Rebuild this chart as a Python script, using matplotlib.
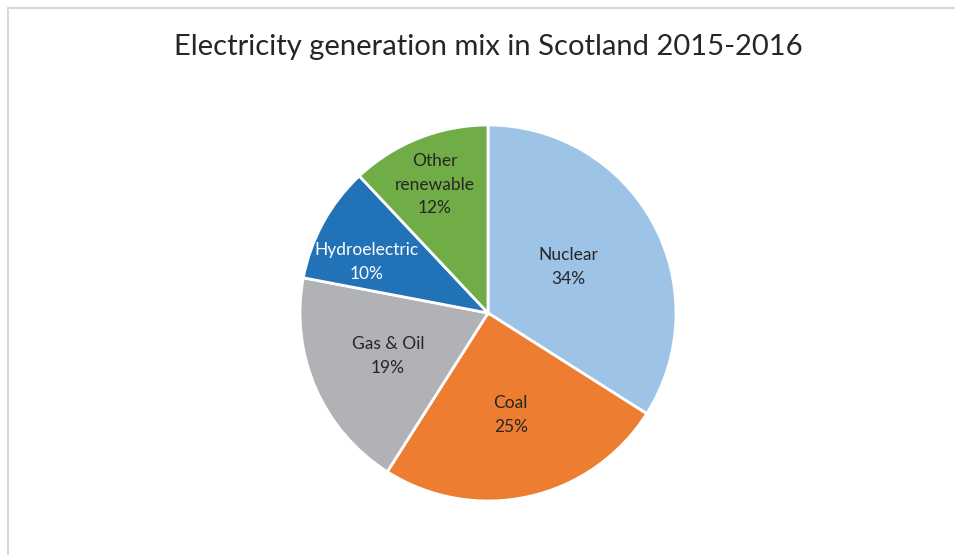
import matplotlib.pyplot as plt
from matplotlib.patches import Rectangle
import numpy as np

sources = ["Nuclear", "Coal", "Gas & Oil", "Hydroelectric", "Other\nrenewable"]
shares = [34, 25, 19, 10, 12]
colors = ["#9DC3E6", "#ED7D31", "#B1B2B5", "#2272B8", "#70AD47"]
text_colors = ["#262626", "#262626", "#262626", "white", "#262626"]
# label placement: fraction of radius and angle nudge (degrees) from wedge middle
label_radius = [0.49, 0.555, 0.58, 0.70, 0.74]
label_nudge = [1, 0, 0, 6, 1]

W, H = 955, 555
fig = plt.figure(figsize=(W / 100, H / 100), dpi=100)
plt.rcParams['font.family'] = ['Lato', 'DejaVu Sans']

# chart area border (runs off the right and bottom edges)
fig.patches.append(Rectangle((8 / W, -0.1), 1.2, (H - 8) / H + 0.1,
                             transform=fig.transFigure, fill=False,
                             edgecolor="#D9D9D9", linewidth=1.5))

cx, cy, r = 488, H - 313, 188
ax = fig.add_axes([(cx - r) / W, (cy - r) / H, 2 * r / W, 2 * r / H])

wedges, _ = ax.pie(shares, colors=colors, startangle=90, counterclock=False,
                   wedgeprops=dict(edgecolor="white", linewidth=2))
ax.set_xlim(-1, 1)
ax.set_ylim(-1, 1)

for w, name, val, tc, rr, dn in zip(wedges, sources, shares, text_colors,
                                    label_radius, label_nudge):
    mid = np.deg2rad((w.theta1 + w.theta2) / 2 + dn)
    ax.text(rr * np.cos(mid), rr * np.sin(mid), f"{name}\n{val}%",
            ha="center", va="center", fontsize=12.5, color=tc, linespacing=1.6)

fig.text(cx / W, 1 - 47 / H, "Electricity generation mix in Scotland 2015-2016",
         ha="center", va="center", fontsize=21, color="#262626")

fig.savefig("out.png", dpi=100, facecolor="white")
